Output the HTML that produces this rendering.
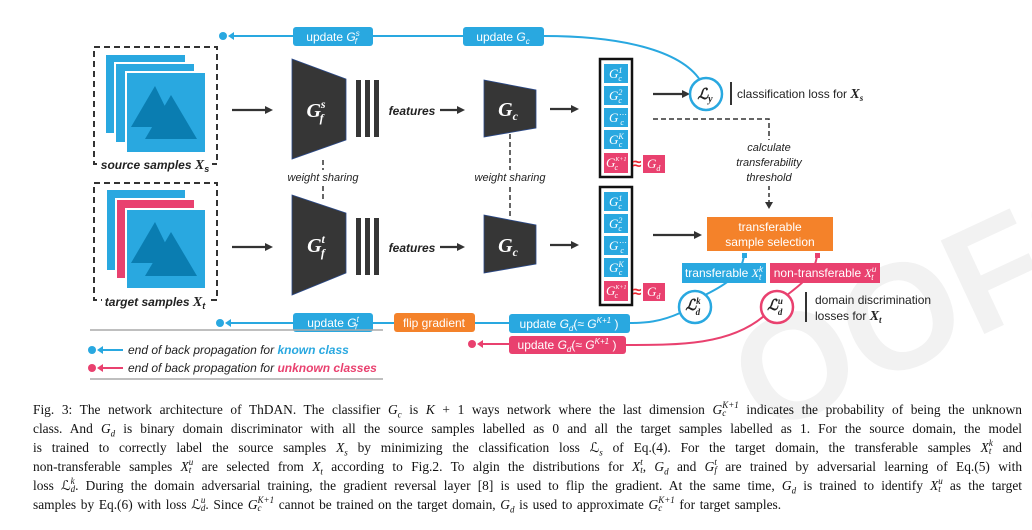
<!DOCTYPE html>
<html><head><meta charset="utf-8">
<style>
html,body{margin:0;padding:0;background:#fff;}
body{width:1032px;height:530px;position:relative;overflow:hidden;}
svg{position:absolute;left:0;top:0;}
.cap{position:absolute;left:33px;width:989px;font-family:"Liberation Serif",serif;font-size:13.4px;color:#111;line-height:15px;height:15px;white-space:nowrap;text-align:justify;text-align-last:justify;}
.cap i{font-style:italic;}
.cap sub{font-size:9px;line-height:0;}
.ss{display:inline-block;vertical-align:middle;font-size:9px;line-height:8px;font-style:italic;text-align:left;text-align-last:left;position:relative;top:-2px;}
.ss span{display:block;}
.last{text-align-last:left;}
</style></head><body>
<svg width="1032" height="530" viewBox="0 0 1032 530" font-family="Liberation Sans, sans-serif">
<!-- watermark -->
<text x="760" y="420" font-size="150" fill="#f2f2f2" font-weight="bold" transform="rotate(-25 800 420)">OOFS</text>

<!-- top back-prop line -->
<circle cx="223" cy="36" r="4" fill="#29a8e0"/>
<path d="M228 36 L234 32 L234 40 Z" fill="#29a8e0"/>
<path d="M232 36 L544 36 C620 36 680 50 700 80" stroke="#29a8e0" stroke-width="2" fill="none"/>
<rect x="293" y="27" width="80" height="19" rx="3" fill="#29a8e0"/>
<text x="333" y="41" font-size="12" fill="#fff" text-anchor="middle">update <tspan font-style="italic">G</tspan><tspan font-size="8" dy="-5" font-style="italic">s</tspan><tspan font-size="8" dy="8" dx="-5" font-style="italic">f</tspan></text>
<rect x="463" y="27" width="81" height="19" rx="3" fill="#29a8e0"/>
<text x="503" y="41" font-size="12" fill="#fff" text-anchor="middle">update <tspan font-style="italic">G</tspan><tspan font-size="8" dy="3" font-style="italic">c</tspan></text>

<!-- source box -->
<rect x="94" y="47" width="123" height="117" fill="none" stroke="#333" stroke-width="2" stroke-dasharray="6,4"/>
<rect x="106" y="55" width="79" height="78" fill="#29a8e0"/>
<rect x="115" y="63" width="80" height="80" fill="#29a8e0" stroke="#fff" stroke-width="2"/>
<rect x="126" y="72" width="80" height="81" fill="#29a8e0" stroke="#fff" stroke-width="2"/>
<path d="M155 86 L131 127 L175 127 Z" fill="#0a7db1"/>
<path d="M171 95 L145 139 L197 139 Z" fill="#0a7db1"/>
<rect x="100" y="156" width="112" height="16" fill="#fff"/>
<text x="155" y="169" font-size="12" font-weight="bold" font-style="italic" text-anchor="middle" fill="#222">source samples <tspan font-family="Liberation Serif" font-size="14">X</tspan><tspan font-size="9" dy="3">s</tspan></text>

<!-- target box -->
<rect x="94" y="183" width="123" height="117" fill="none" stroke="#333" stroke-width="2" stroke-dasharray="6,4"/>
<rect x="107" y="190" width="78" height="80" fill="#29a8e0"/>
<rect x="116" y="199" width="79" height="80" fill="#e9416f" stroke="#fff" stroke-width="2"/>
<rect x="126" y="209" width="80" height="80" fill="#29a8e0" stroke="#fff" stroke-width="2"/>
<path d="M155 222 L131 263 L175 263 Z" fill="#0a7db1"/>
<path d="M171 232 L145 276 L197 276 Z" fill="#0a7db1"/>
<rect x="102" y="293" width="108" height="16" fill="#fff"/>
<text x="155" y="306" font-size="12" font-weight="bold" font-style="italic" text-anchor="middle" fill="#222">target samples <tspan font-family="Liberation Serif" font-size="14">X</tspan><tspan font-size="9" dy="3">t</tspan></text>

<!-- arrows -->
<g stroke="#333" stroke-width="2.2" fill="#333">
<line x1="232" y1="110" x2="267" y2="110"/><path d="M273 110 L265 106 L265 114Z" stroke="none"/>
<line x1="232" y1="247" x2="267" y2="247"/><path d="M273 247 L265 243 L265 251Z" stroke="none"/>
<line x1="440" y1="110" x2="459" y2="110"/><path d="M465 110 L457 106 L457 114Z" stroke="none"/>
<line x1="440" y1="247" x2="459" y2="247"/><path d="M465 247 L457 243 L457 251Z" stroke="none"/>
<line x1="550" y1="109" x2="573" y2="109"/><path d="M579 109 L571 105 L571 113Z" stroke="none"/>
<line x1="550" y1="245" x2="573" y2="245"/><path d="M579 245 L571 241 L571 249Z" stroke="none"/>
<line x1="653" y1="94" x2="683" y2="94"/><path d="M690 94 L682 90 L682 98Z" stroke="none"/>
<line x1="653" y1="235" x2="695" y2="235"/><path d="M702 235 L694 231 L694 239Z" stroke="none"/>
</g>

<!-- Gf trapezoids -->
<path d="M292 59 L346 79 L346 140 L292 159 Z" fill="#363636" stroke="#2b4a8a" stroke-width="0.8"/>
<path d="M292 195 L346 213 L346 273 L292 295 Z" fill="#363636" stroke="#2b4a8a" stroke-width="0.8"/>
<text x="316" y="117" font-family="Liberation Serif" font-style="italic" font-weight="bold" font-size="20" fill="#fff" text-anchor="middle">G<tspan font-size="12" dy="-9">s</tspan><tspan font-size="12" dy="14" dx="-6">f</tspan></text>
<text x="316" y="252" font-family="Liberation Serif" font-style="italic" font-weight="bold" font-size="20" fill="#fff" text-anchor="middle">G<tspan font-size="12" dy="-9">t</tspan><tspan font-size="12" dy="14" dx="-4">f</tspan></text>
<g fill="#363636">
<rect x="356" y="80" width="5" height="57"/><rect x="365" y="80" width="5" height="57"/><rect x="374" y="80" width="5" height="57"/>
<rect x="356" y="218" width="5" height="57"/><rect x="365" y="218" width="5" height="57"/><rect x="374" y="218" width="5" height="57"/>
</g>
<text x="412" y="115" font-size="12" font-weight="bold" font-style="italic" text-anchor="middle" fill="#222">features</text>
<text x="412" y="252" font-size="12" font-weight="bold" font-style="italic" text-anchor="middle" fill="#222">features</text>
<!-- Gc trapezoids -->
<path d="M484 80 L536 90 L536 128 L484 137 Z" fill="#363636" stroke="#2b4a8a" stroke-width="0.8"/>
<path d="M484 215 L536 225 L536 264 L484 273 Z" fill="#363636" stroke="#2b4a8a" stroke-width="0.8"/>
<text x="508" y="116" font-family="Liberation Serif" font-style="italic" font-weight="bold" font-size="20" fill="#fff" text-anchor="middle">G<tspan font-size="12" dy="4">c</tspan></text>
<text x="508" y="252" font-family="Liberation Serif" font-style="italic" font-weight="bold" font-size="20" fill="#fff" text-anchor="middle">G<tspan font-size="12" dy="4">c</tspan></text>

<!-- weight sharing -->
<g stroke="#333" stroke-width="1.5" stroke-dasharray="5,3">
<line x1="323" y1="160" x2="323" y2="170"/><line x1="323" y1="186" x2="323" y2="200"/>
<line x1="510" y1="134" x2="510" y2="170"/><line x1="510" y1="187" x2="510" y2="218"/>
</g>
<text x="323" y="181" font-size="11" font-style="italic" text-anchor="middle" fill="#222">weight sharing</text>
<text x="510" y="181" font-size="11" font-style="italic" text-anchor="middle" fill="#222">weight sharing</text>

<!-- classifier columns -->
<g font-family="Liberation Serif" font-style="italic" font-size="13" fill="#fff">
<rect x="600" y="59" width="32" height="118" fill="#fff" stroke="#111" stroke-width="2.5"/>
<rect x="604" y="64" width="24" height="19" fill="#29a8e0"/><text x="609" y="78">G<tspan font-size="8" dy="-5">1</tspan><tspan font-size="8" dy="8" dx="-4">c</tspan></text>
<rect x="604" y="86" width="24" height="19" fill="#29a8e0"/><text x="609" y="100">G<tspan font-size="8" dy="-5">2</tspan><tspan font-size="8" dy="8" dx="-4">c</tspan></text>
<rect x="604" y="108" width="24" height="19" fill="#29a8e0"/><text x="609" y="122">G<tspan font-size="8" dy="-5">⋯</tspan><tspan font-size="8" dy="8" dx="-6">c</tspan></text>
<rect x="604" y="130" width="24" height="19" fill="#29a8e0"/><text x="609" y="144">G<tspan font-size="8" dy="-5">K</tspan><tspan font-size="8" dy="8" dx="-5">c</tspan></text>
<rect x="604" y="153" width="24" height="20" fill="#e9416f"/><text x="606" y="167">G<tspan font-size="6" dy="-6">K+1</tspan><tspan font-size="8" dy="9" dx="-12">c</tspan></text>
<rect x="643" y="155" width="22" height="18" fill="#e9416f"/><text x="647" y="168">G<tspan font-size="8" dy="3">d</tspan></text>

<rect x="600" y="187" width="32" height="118" fill="#fff" stroke="#111" stroke-width="2.5"/>
<rect x="604" y="192" width="24" height="19" fill="#29a8e0"/><text x="609" y="206">G<tspan font-size="8" dy="-5">1</tspan><tspan font-size="8" dy="8" dx="-4">c</tspan></text>
<rect x="604" y="214" width="24" height="19" fill="#29a8e0"/><text x="609" y="228">G<tspan font-size="8" dy="-5">2</tspan><tspan font-size="8" dy="8" dx="-4">c</tspan></text>
<rect x="604" y="236" width="24" height="19" fill="#29a8e0"/><text x="609" y="250">G<tspan font-size="8" dy="-5">⋯</tspan><tspan font-size="8" dy="8" dx="-6">c</tspan></text>
<rect x="604" y="258" width="24" height="19" fill="#29a8e0"/><text x="609" y="272">G<tspan font-size="8" dy="-5">K</tspan><tspan font-size="8" dy="8" dx="-5">c</tspan></text>
<rect x="604" y="281" width="24" height="20" fill="#e9416f"/><text x="606" y="295">G<tspan font-size="6" dy="-6">K+1</tspan><tspan font-size="8" dy="9" dx="-12">c</tspan></text>
<rect x="643" y="283" width="22" height="18" fill="#e9416f"/><text x="647" y="296">G<tspan font-size="8" dy="3">d</tspan></text>
</g>
<text x="637" y="169" font-size="16" fill="#e8242e" text-anchor="middle" font-weight="bold">≈</text>
<text x="637" y="297" font-size="16" fill="#e8242e" text-anchor="middle" font-weight="bold">≈</text>

<!-- Ly -->
<circle cx="706" cy="94" r="16" fill="#fff" stroke="#29a8e0" stroke-width="2.5"/>
<text x="705" y="99" font-family="Liberation Serif" font-style="italic" font-weight="bold" font-size="15" text-anchor="middle" fill="#222">ℒ<tspan font-size="10" dy="3">y</tspan></text>
<line x1="731" y1="82" x2="731" y2="105" stroke="#333" stroke-width="2"/>
<text x="737" y="98" font-size="12" fill="#222">classification loss for <tspan font-family="Liberation Serif" font-style="italic" font-weight="bold" font-size="14">X</tspan><tspan font-family="Liberation Serif" font-style="italic" font-weight="bold" font-size="9" dy="3">s</tspan></text>

<!-- threshold -->
<path d="M653 119 L769 119 L769 140" stroke="#333" stroke-width="1.5" fill="none" stroke-dasharray="5,3"/>
<line x1="769" y1="186" x2="769" y2="203" stroke="#333" stroke-width="1.5" stroke-dasharray="4,3"/>
<path d="M769 209 L765 202 L773 202Z" fill="#333"/>
<g font-size="11" font-style="italic" fill="#222" text-anchor="middle">
<text x="769" y="151">calculate</text><text x="769" y="166">transferability</text><text x="769" y="181">threshold</text>
</g>

<!-- orange selection -->
<rect x="707" y="217" width="126" height="34" fill="#f4822a"/>
<text x="770" y="231" font-size="12" fill="#fff" text-anchor="middle">transferable</text>
<text x="770" y="246" font-size="12" fill="#fff" text-anchor="middle">sample selection</text>

<!-- curves from labels -->
<path d="M744 255 C742 275 725 285 705 295" stroke="#29a8e0" stroke-width="2" fill="none"/>
<path d="M817 255 C815 275 800 285 787 295" stroke="#e9416f" stroke-width="2" fill="none"/>
<rect x="742" y="253" width="5" height="5" fill="#29a8e0"/>
<rect x="815" y="253" width="5" height="5" fill="#e9416f"/>
<rect x="682" y="263" width="84" height="20" fill="#29a8e0"/>
<text x="724" y="277" font-size="12" fill="#fff" text-anchor="middle">transferable <tspan font-family="Liberation Serif" font-style="italic">X</tspan><tspan font-size="8" dy="-5" font-style="italic">k</tspan><tspan font-size="8" dy="8" dx="-4" font-style="italic">t</tspan></text>
<rect x="770" y="263" width="110" height="20" fill="#e9416f"/>
<text x="825" y="277" font-size="12" fill="#fff" text-anchor="middle">non-transferable <tspan font-family="Liberation Serif" font-style="italic">X</tspan><tspan font-size="8" dy="-5" font-style="italic">u</tspan><tspan font-size="8" dy="8" dx="-5" font-style="italic">t</tspan></text>

<!-- bottom curves -->
<path d="M680 313 C660 322 645 323 630 323" stroke="#29a8e0" stroke-width="2" fill="none"/>
<path d="M764 316 C730 345 680 345 626 345" stroke="#e9416f" stroke-width="2" fill="none"/>
<circle cx="695" cy="307" r="16" fill="#fff" stroke="#29a8e0" stroke-width="2.5"/>
<text x="693" y="310" font-family="Liberation Serif" font-style="italic" font-weight="bold" font-size="15" text-anchor="middle" fill="#222">ℒ<tspan font-size="9" dy="-6">k</tspan><tspan font-size="9" dy="11" dx="-5">d</tspan></text>
<circle cx="777" cy="307" r="16" fill="#fff" stroke="#e9416f" stroke-width="2.5"/>
<text x="775" y="310" font-family="Liberation Serif" font-style="italic" font-weight="bold" font-size="15" text-anchor="middle" fill="#222">ℒ<tspan font-size="9" dy="-6">u</tspan><tspan font-size="9" dy="11" dx="-5">d</tspan></text>
<line x1="806" y1="292" x2="806" y2="322" stroke="#333" stroke-width="2"/>
<text x="815" y="304" font-size="12" fill="#222">domain discrimination</text>
<text x="815" y="320" font-size="12" fill="#222">losses for <tspan font-family="Liberation Serif" font-style="italic" font-weight="bold" font-size="14">X</tspan><tspan font-family="Liberation Serif" font-style="italic" font-weight="bold" font-size="9" dy="3">t</tspan></text>

<!-- bottom back-prop line -->
<circle cx="220" cy="323" r="4" fill="#29a8e0"/>
<path d="M225 323 L231 319 L231 327 Z" fill="#29a8e0"/>
<line x1="229" y1="323" x2="510" y2="323" stroke="#29a8e0" stroke-width="2"/>
<rect x="293" y="313" width="80" height="19" rx="3" fill="#29a8e0"/>
<text x="333" y="327" font-size="12" fill="#fff" text-anchor="middle">update <tspan font-style="italic">G</tspan><tspan font-size="8" dy="-5" font-style="italic">t</tspan><tspan font-size="8" dy="8" dx="-4" font-style="italic">f</tspan></text>
<rect x="394" y="313" width="81" height="19" rx="3" fill="#f4822a"/>
<text x="434" y="327" font-size="12" fill="#fff" text-anchor="middle">flip gradient</text>
<rect x="509" y="314" width="121" height="19" rx="3" fill="#29a8e0"/>
<text x="569" y="328" font-size="12" fill="#fff" text-anchor="middle">update <tspan font-style="italic">G</tspan><tspan font-size="8" dy="3" font-style="italic">d</tspan><tspan dy="-3">(≈ </tspan><tspan font-style="italic">G</tspan><tspan font-size="8" dy="-5" font-style="italic">K+1</tspan><tspan dy="5"> )</tspan></text>
<circle cx="472" cy="344" r="4" fill="#e9416f"/>
<path d="M477 344 L483 340 L483 348 Z" fill="#e9416f"/>
<line x1="481" y1="344" x2="510" y2="344" stroke="#e9416f" stroke-width="2"/>
<rect x="509" y="336" width="117" height="18" rx="3" fill="#e9416f"/>
<text x="567" y="349" font-size="12" fill="#fff" text-anchor="middle">update <tspan font-style="italic">G</tspan><tspan font-size="8" dy="3" font-style="italic">d</tspan><tspan dy="-3">(≈ </tspan><tspan font-style="italic">G</tspan><tspan font-size="8" dy="-5" font-style="italic">K+1</tspan><tspan dy="5"> )</tspan></text>

<!-- legend -->
<line x1="90" y1="330" x2="383" y2="330" stroke="#aaa" stroke-width="1.5"/>
<line x1="90" y1="379" x2="383" y2="379" stroke="#aaa" stroke-width="1.5"/>
<circle cx="92" cy="350" r="4" fill="#29a8e0"/><path d="M97 350 L103 346 L103 354Z" fill="#29a8e0"/><line x1="101" y1="350" x2="123" y2="350" stroke="#29a8e0" stroke-width="2"/>
<circle cx="92" cy="368" r="4" fill="#e9416f"/><path d="M97 368 L103 364 L103 372Z" fill="#e9416f"/><line x1="101" y1="368" x2="123" y2="368" stroke="#e9416f" stroke-width="2"/>
<text x="128" y="354" font-size="12" font-style="italic" fill="#222">end of back propagation for <tspan fill="#29a8e0" font-weight="bold">known class</tspan></text>
<text x="128" y="372" font-size="12" font-style="italic" fill="#222">end of back propagation for <tspan fill="#e9416f" font-weight="bold">unknown classes</tspan></text>
</svg>

<div class="cap" style="top:402px">Fig. 3: The network architecture of ThDAN. The classifier <i>G<sub>c</sub></i> is <i>K</i> + 1 ways network where the last dimension <i>G</i><span class="ss"><span><i>K</i>+1</span><span><i>c</i></span></span> indicates the probability of being the unknown</div>
<div class="cap" style="top:421px">class. And <i>G<sub>d</sub></i> is binary domain discriminator with all the source samples labelled as 0 and all the target samples labelled as 1. For the source domain, the model</div>
<div class="cap" style="top:440px">is trained to correctly label the source samples <i>X<sub>s</sub></i> by minimizing the classification loss ℒ<sub><i>s</i></sub> of Eq.(4). For the target domain, the transferable samples <i>X</i><span class="ss"><span>k</span><span>t</span></span> and</div>
<div class="cap" style="top:459px">non-transferable samples <i>X</i><span class="ss"><span>u</span><span>t</span></span> are selected from <i>X<sub>t</sub></i> according to Fig.2. To algin the distributions for <i>X</i><span class="ss"><span>t</span><span>t</span></span>, <i>G<sub>d</sub></i> and <i>G</i><span class="ss"><span>t</span><span>f</span></span> are trained by adversarial learning of Eq.(5) with</div>
<div class="cap" style="top:478px">loss ℒ<span class="ss"><span>k</span><span>d</span></span>. During the domain adversarial training, the gradient reversal layer [8] is used to flip the gradient. At the same time, <i>G<sub>d</sub></i> is trained to identify <i>X</i><span class="ss"><span>u</span><span>t</span></span> as the target</div>
<div class="cap last" style="top:497px;word-spacing:1.3px">samples by Eq.(6) with loss ℒ<span class="ss"><span>u</span><span>d</span></span>. Since <i>G</i><span class="ss"><span><i>K</i>+1</span><span>c</span></span> cannot be trained on the target domain, <i>G<sub>d</sub></i> is used to approximate <i>G</i><span class="ss"><span><i>K</i>+1</span><span>c</span></span> for target samples.</div>
</body></html>
